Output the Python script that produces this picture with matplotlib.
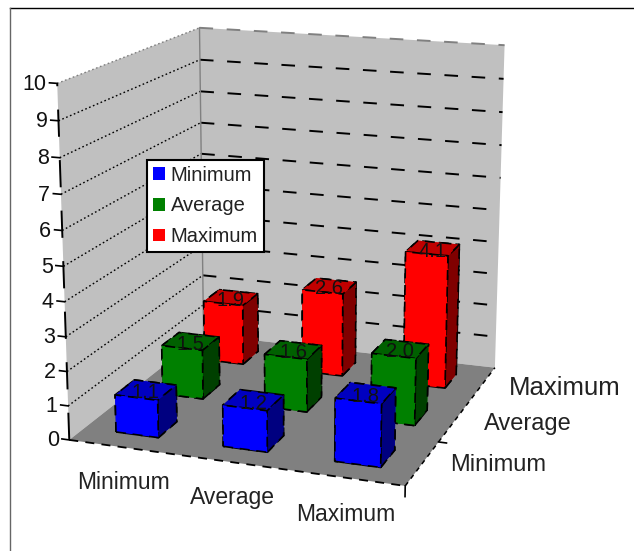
import numpy as np
import matplotlib
matplotlib.use('Agg')
import matplotlib.pyplot as plt
from matplotlib.lines import Line2D
from matplotlib.patches import Patch
from matplotlib.transforms import Affine2D
from mpl_toolkits.mplot3d import proj3d
from mpl_toolkits.mplot3d.art3d import Poly3DCollection

plt.rcParams['font.family'] = ['Liberation Sans', 'DejaVu Sans']

# Bar values per series, one entry per category on the front axis
categories = ['Minimum', 'Average', 'Maximum']
series_names = ['Minimum', 'Average', 'Maximum']
minimum_values = [1.1, 1.2, 1.8]
average_values = [1.5, 1.6, 2.0]
maximum_values = [1.9, 2.6, 4.1]
z_ticks = list(range(0, 11))

# front, top and side shades for each series
shades = {
    'Minimum': ('#0000ff', '#0000c0', '#000080'),
    'Average': ('#008000', '#006000', '#004000'),
    'Maximum': ('#ff0000', '#c00000', '#800000'),
}

W, H = 634, 551
fig = plt.figure(figsize=(W/100, H/100), dpi=100)
ax = fig.add_axes([-0.0071, 0.0298, 0.9148, 1.0526], projection='3d', computed_zorder=False)
ax.patch.set_alpha(0)
ax.view_init(elev=15.365, azim=-70.431)
ax.set_proj_type('persp', focal_length=0.599)
ax.set_box_aspect((1, 1.016, 1.035))
ax.set_xlim(0, 3, view_margin=0)
ax.set_ylim(0, 3, view_margin=0)
ax.set_zlim(0, 10, view_margin=0)
ax.set_axis_off()

nx, ny, top = len(categories), len(series_names), z_ticks[-1]
proj = ax.get_proj()


def label3d(x, y, z, s, dy=0, **kw):
    # project to the view plane so the text behaves like ordinary 2D text
    u, v, _ = proj3d.proj_transform(x, y, z, proj)
    trans = ax.transData + Affine2D().translate(0, -dy)
    return ax.text2D(u, v, s, transform=trans, **kw)


# walls and floor
walls = [
    ([[0, 0, 0], [0, ny, 0], [0, ny, top], [0, 0, top]], '#c0c0c0'),
    ([[0, ny, 0], [nx, ny, 0], [nx, ny, top], [0, ny, top]], '#c0c0c0'),
    ([[0, 0, 0], [nx, 0, 0], [nx, ny, 0], [0, ny, 0]], '#808080'),
]
for verts, col in walls:
    ax.add_collection3d(Poly3DCollection([verts], facecolors=col, edgecolors='none', zorder=1))

# gridlines, dotted on the side wall and dashed on the back wall
for z in z_ticks[1:]:
    col = '#808080' if z == top else 'black'
    ax.plot([0, 0], [0, ny], [z, z], color=col, lw=1.0, ls=(0, (1.2, 1.8)), zorder=2)
    ax.plot([0, nx], [ny, ny], [z, z], color=col, lw=1.4, ls=(0, (7, 7)), zorder=2)
ax.plot([0, 0], [ny, ny], [0, top], color='#808080', lw=1.0, zorder=2)

# floor edges, value axis and tick marks
ax.plot([0, nx], [0, 0], [0, 0], color='black', lw=1.3, ls=(0, (5, 4)), zorder=3)
ax.plot([nx, nx], [0, ny], [0, 0], color='black', lw=1.1, ls=(0, (3, 3)), zorder=3)
ax.plot([0, 0], [0, 0], [0, top], color='black', lw=1.4, ls=(0, (14, 12)), zorder=3)
for z in z_ticks:
    ax.plot([-0.07, 0], [0, 0], [z, z], color='black', lw=1.2, zorder=3)
    label3d(-0.1, 0, z, str(z), dy=2, ha='right', va='center', fontsize=15.5,
            color='#111111', zorder=3)
ax.plot([nx, nx], [0, 0], [0, -0.3], color='black', lw=1.2, zorder=3)
ax.plot([nx, nx + 0.07], [ny / 3, ny / 3], [0, 0], color='black', lw=1.2, zorder=3)

# category labels on both floor edges
for i, name in enumerate(categories):
    label3d(i + 0.5, 0, -1.0, name, dy=1, ha='center', va='center', fontsize=16.5,
            color='#222222', zorder=3)
depth_sizes = [17, 17, 18.5]
depth_nudge = [-0.02, 0.0, 0.11]
for j, name in enumerate(series_names):
    label3d(nx + 0.66 + depth_nudge[j], j + 0.5, 0.4, name, dy=6, ha='center', va='center',
            fontsize=depth_sizes[j], color='#222222', zorder=3)

# bars from the back row to the front so nearer ones cover the rest
bar_w = 0.4
rows = [minimum_values, average_values, maximum_values]
order = 10
for j in reversed(range(ny)):
    front, cap, side = shades[series_names[j]]
    face_colors = [cap, cap, front, front, side, side]
    for i, val in enumerate(rows[j]):
        ax.bar3d(i + 0.5 - bar_w / 2, j + 0.5 - bar_w / 2, 0, bar_w, bar_w, val,
                 color=face_colors, edgecolor='black', linewidth=1.2,
                 linestyle=(0, (6, 4)), shade=False, zorder=order)
        label3d(i + 0.5, j + 0.5, val, f'{val:.1f}', dy=3, ha='center', va='center',
                fontsize=14.5, color='#111111', zorder=order + 1)
        order += 2

handles = [Patch(facecolor=shades[n][0], edgecolor='none') for n in series_names]
leg = fig.legend(handles, series_names, loc='upper left',
                 bbox_to_anchor=(147 / W, 1 - 160 / H), borderaxespad=0,
                 fontsize=14.5, frameon=True, fancybox=False, framealpha=1,
                 edgecolor='black', handlelength=0.6, handleheight=0.6, handletextpad=0.3,
                 labelspacing=0.58, borderpad=0.28, labelcolor='#222222')
leg.get_frame().set_linewidth(1.5)

# top and left border lines of the sheet
fig.add_artist(Line2D([10 / W, 1], [1 - 8 / H, 1 - 8 / H], transform=fig.transFigure,
                      color='black', lw=1.0))
fig.add_artist(Line2D([10 / W, 10 / W], [0, 1 - 8 / H], transform=fig.transFigure,
                      color='#666666', lw=1.0))

fig.savefig('out.png', dpi=100)
